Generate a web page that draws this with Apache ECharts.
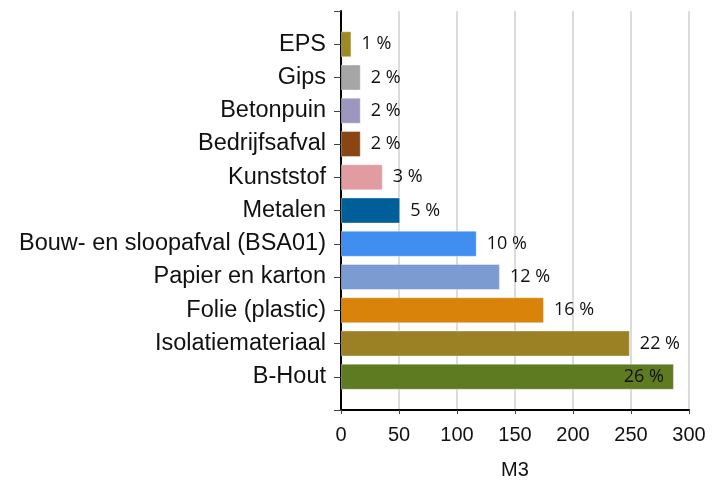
<!DOCTYPE html>
<html>
<head>
<meta charset="utf-8">
<script src="https://cdn.jsdelivr.net/npm/echarts@6/dist/echarts.min.js"></script>
<style>
  html, body { margin: 0; padding: 0; background: #fff; }
  #main { width: 720px; height: 494px; }
</style>
</head>
<body>
<div id="main"></div>
<script>
// categorieën van boven naar beneden
var categories = ['EPS', 'Gips', 'Betonpuin', 'Bedrijfsafval', 'Kunststof', 'Metalen',
  'Bouw- en sloopafval (BSA01)', 'Papier en karton', 'Folie (plastic)', 'Isolatiemateriaal', 'B-Hout'];
var values = [9, 17, 17, 17, 36, 51, 117, 137, 175, 249, 287];
var percentLabels = ['1 %', '2 %', '2 %', '2 %', '3 %', '5 %', '10 %', '12 %', '16 %', '22 %', '26 %'];
var barColors = ['#9e8a22', '#a6a6a6', '#9b97bf', '#8b4513', '#e09ca0', '#005f99',
  '#3f8ef0', '#7b9bd2', '#d9830a', '#9b8124', '#5f7b22'];
var xTicks = [0, 50, 100, 150, 200, 250, 300];

var myChart = echarts.init(document.getElementById('main'));

// lege plekken boven en onder, zoals in het origineel
var axisData = [''].concat(categories, ['']);
var seriesData = ['-'];
for (var i = 0; i < values.length; i++) {
  var inside = i === values.length - 1;
  seriesData.push({
    value: values[i],
    itemStyle: { color: barColors[i] },
    label: {
      position: inside ? 'insideRight' : 'right',
      distance: 10,
      formatter: percentLabels[i]
    }
  });
}
seriesData.push('-');

var option = {
  animation: false,
  grid: { left: 341, right: 31, top: 11, bottom: 84 },
  xAxis: {
    type: 'value',
    min: xTicks[0],
    max: xTicks[xTicks.length - 1],
    interval: 50,
    name: 'M3',
    nameLocation: 'middle',
    nameGap: 50,
    nameTextStyle: { fontFamily: 'Liberation Sans', fontSize: 20, color: '#111' },
    axisLine: { show: true, lineStyle: { color: '#000', width: 2 } },
    axisTick: { show: true, length: 4, lineStyle: { color: '#444' } },
    axisLabel: { fontFamily: 'Liberation Sans', fontSize: 20, color: '#111', margin: 15 },
    splitLine: { show: true, lineStyle: { color: '#dcdcdc', width: 2 } }
  },
  yAxis: {
    type: 'category',
    inverse: true,
    boundaryGap: false,
    data: axisData,
    axisLine: { show: true, lineStyle: { color: '#000', width: 2 } },
    axisTick: { show: true, length: 7, interval: 0, lineStyle: { color: '#444' } },
    axisLabel: { fontFamily: 'Liberation Sans', fontSize: 23.5, color: '#111', margin: 15, interval: 0 },
    splitLine: { show: false }
  },
  series: [{
    type: 'bar',
    data: seriesData,
    barWidth: 26,
    itemStyle: { borderColor: 'rgba(255,255,255,0.35)', borderWidth: 1 },
    label: {
      show: true,
      fontFamily: 'Open Sans',
      fontSize: 18,
      color: '#111'
    }
  }]
};

myChart.setOption(option);
</script>
</body>
</html>
